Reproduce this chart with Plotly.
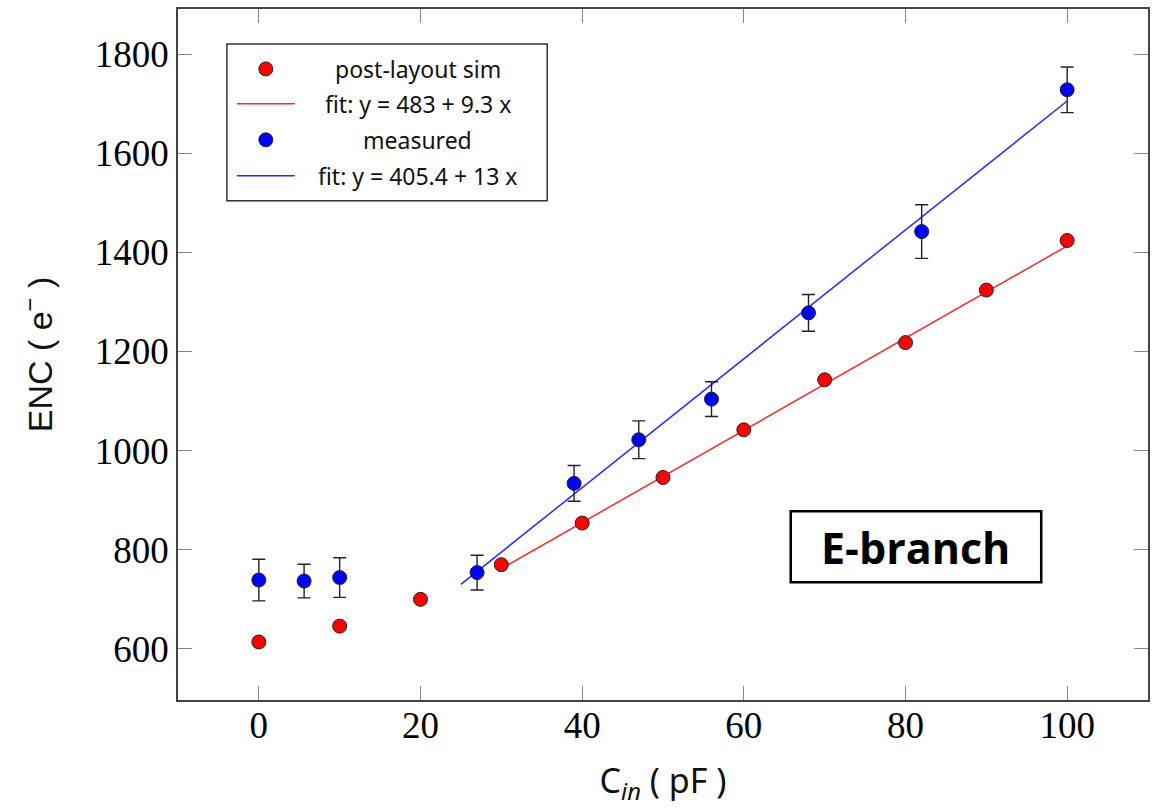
import plotly.graph_objects as go

# Post-layout simulation: input capacitance (pF) vs ENC (electrons)
sim_cin = [0, 10, 20, 30, 40, 50, 60, 70, 80, 90, 100]
sim_enc = [614, 646, 700, 770, 854, 946, 1042, 1143, 1218, 1324, 1424]

# Measured ENC with uncertainties
meas_cin = [0, 5.6, 10, 27, 39, 47, 56, 68, 82, 100]
meas_enc = [739, 737, 744, 754, 934, 1022, 1104, 1278, 1442, 1728]
meas_err = [42, 34, 40, 35, 36, 38, 35, 37, 54, 46]

# Linear fits: (intercept, slope, x_from, x_to)
sim_fit = (483, 9.3, 30, 100)
meas_fit = (405.4, 13, 25, 100)

x_ticks = [0, 20, 40, 60, 80, 100]
y_ticks = [600, 800, 1000, 1200, 1400, 1600, 1800]

legend_labels = ["post-layout sim", "fit: y = 483 + 9.3 x",
                 "measured", "fit: y = 405.4 + 13 x"]
tag_text = "E-branch"


def fit_line(fit):
    a, b, x0, x1 = fit
    xs = [x0, x1]
    return xs, [a + b * x for x in xs]


fig = go.Figure()

sx, sy = fit_line(sim_fit)
mx, my = fit_line(meas_fit)

fig.add_trace(go.Scatter(x=sx, y=sy, mode="lines",
                         line=dict(color="rgb(255,40,40)", width=1.5)))
fig.add_trace(go.Scatter(x=sim_cin, y=sim_enc, mode="markers",
                         marker=dict(color="#ff0000", size=14,
                                     line=dict(color="#222", width=1))))
fig.add_trace(go.Scatter(x=mx, y=my, mode="lines",
                         line=dict(color="rgb(40,40,255)", width=1.5)))
fig.add_trace(go.Scatter(x=meas_cin, y=meas_enc, mode="markers",
                         error_y=dict(type="data", array=meas_err, visible=True,
                                      color="#222", thickness=1.4, width=6.5),
                         marker=dict(color="#0000ff", size=14,
                                     line=dict(color="#222", width=1))))

# plot area geometry (pixels) for paper-coordinate decorations
L, R, T, B = 178, 1150, 8, 700
W, H = R - L, B - T


def px(x):
    return (x - L) / W


def py(y):
    return (B - y) / H


shapes = []
annotations = []

# legend box
shapes.append(dict(type="rect", xref="paper", yref="paper",
                   x0=px(227), x1=px(548), y0=py(200), y1=py(43),
                   line=dict(color="#333", width=1.5), fillcolor="white"))
rows = [68, 103, 139, 175]
kinds = [("marker", "#ff0000"), ("line", "rgb(255,40,40)"),
         ("marker", "#0000ff"), ("line", "rgb(40,40,255)")]
for ry, (kind, col), lab in zip(rows, kinds, legend_labels):
    if kind == "marker":
        r = 7
        shapes.append(dict(type="circle", xref="paper", yref="paper",
                           x0=px(266 - r), x1=px(266 + r),
                           y0=py(ry + r), y1=py(ry - r),
                           fillcolor=col, line=dict(color="#222", width=1)))
    else:
        shapes.append(dict(type="line", xref="paper", yref="paper",
                           x0=px(237), x1=px(295), y0=py(ry), y1=py(ry),
                           line=dict(color=col, width=1.5)))
    annotations.append(dict(xref="paper", yref="paper", x=px(418), y=py(ry),
                            text=lab, showarrow=False, xanchor="center",
                            yanchor="middle",
                            font=dict(family="Noto Sans", size=23, color="#111")))

# branch tag
shapes.append(dict(type="rect", xref="paper", yref="paper",
                   x0=px(792), x1=px(1043), y0=py(582), y1=py(511),
                   line=dict(color="black", width=2.5), fillcolor="white"))
annotations.append(dict(xref="paper", yref="paper", x=px(917.5), y=py(547),
                        text="<b>" + tag_text + "</b>", showarrow=False,
                        xanchor="center", yanchor="middle",
                        font=dict(family="Open Sans", size=43, color="black")))

tick_font = dict(family="Liberation Serif", size=37, color="black")
axis_common = dict(showline=True, mirror="ticks", linecolor="#444", linewidth=1.5,
                   ticks="inside", ticklen=14, tickcolor="#888", tickwidth=1,
                   showgrid=False, zeroline=False, tickfont=tick_font)

fig.update_layout(
    width=1157, height=810,
    margin=dict(l=L, r=1157 - R, t=T, b=810 - B),
    paper_bgcolor="white", plot_bgcolor="white",
    showlegend=False,
    shapes=shapes, annotations=annotations,
    xaxis=dict(range=[-10, 110], tickvals=x_ticks, ticklabelstandoff=-8,
               title=dict(text="C<sub><i>in</i></sub> ( pF )",
                          font=dict(family="Noto Sans", size=34, color="#111"),
                          standoff=24),
               **axis_common),
    yaxis=dict(range=[497, 1891], tickvals=y_ticks,
               title=dict(text="ENC ( e<sup>−</sup> )",
                          font=dict(family="Liberation Sans", size=34, color="#111"),
                          standoff=32),
               **axis_common),
)

fig.write_html("out.html")
